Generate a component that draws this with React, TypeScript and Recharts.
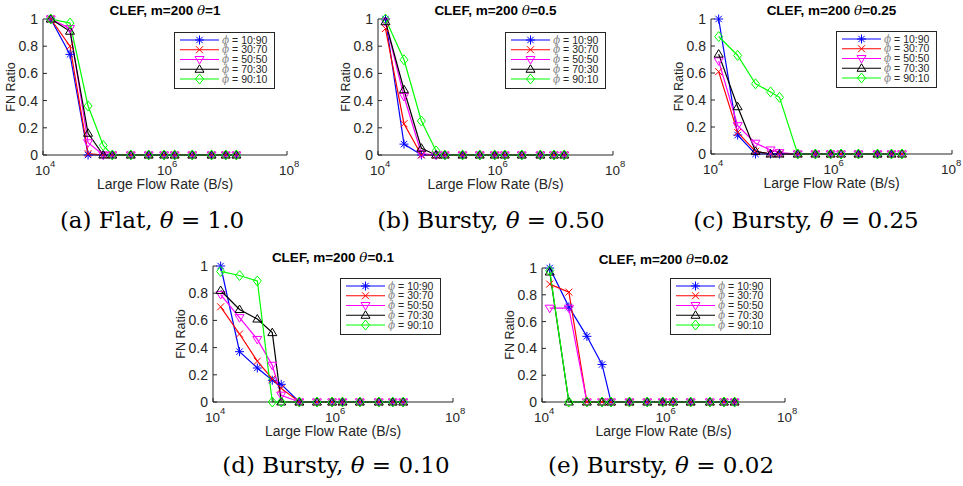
import React from "react"
import { LineChart, Line, XAxis, YAxis } from "recharts"

// large flow rates (B/s), shared by every panel
const xRates = [13400, 27700, 54800, 97300, 137000, 275000, 540000, 968000, 1440000, 2800000, 5800000, 9900000, 14800000]
const mixLabels = ["10:90", "30:70", "50:50", "70:30", "90:10"]
const xTicks = [1e4, 1e5, 1e6, 1e7, 1e8]
const yTicks = [0, 0.2, 0.4, 0.6, 0.8, 1]
const thetaTitles = ["1", "0.5", "0.25", "0.1", "0.02"]
const captionHeads = ["(a) Flat, ", "(b) Bursty, ", "(c) Bursty, ", "(d) Bursty, ", "(e) Bursty, "]
const captionThetas = ["1.0", "0.50", "0.25", "0.10", "0.02"]

// FN ratio, one row per mix (10:90 .. 90:10)
const fnTheta1 = [
  [1, 0.74, 0, 0, 0, 0, 0, 0, 0, 0, 0, 0, 0],
  [1, 0.8, 0.01, 0, 0, 0, 0, 0, 0, 0, 0, 0, 0],
  [1, 0.93, 0.09, 0, 0, 0, 0, 0, 0, 0, 0, 0, 0],
  [1, 0.91, 0.16, 0, 0, 0, 0, 0, 0, 0, 0, 0, 0],
  [1, 0.97, 0.36, 0.07, 0, 0, 0, 0, 0, 0, 0, 0, 0],
]
const fnTheta050 = [
  [1, 0.08, 0, 0, 0, 0, 0, 0, 0, 0, 0, 0, 0],
  [0.93, 0.23, 0, 0, 0, 0, 0, 0, 0, 0, 0, 0, 0],
  [0.98, 0.43, 0.01, 0, 0, 0, 0, 0, 0, 0, 0, 0, 0],
  [0.98, 0.48, 0.05, 0, 0, 0, 0, 0, 0, 0, 0, 0, 0],
  [1, 0.7, 0.25, 0.03, 0, 0, 0, 0, 0, 0, 0, 0, 0],
]
const fnTheta025 = [
  [1, 0.14, 0, 0, 0, 0, 0, 0, 0, 0, 0, 0, 0],
  [0.61, 0.16, 0.02, 0, 0, 0, 0, 0, 0, 0, 0, 0, 0],
  [0.69, 0.21, 0.08, 0.03, 0.01, 0, 0, 0, 0, 0, 0, 0, 0],
  [0.74, 0.35, 0.02, 0, 0, 0, 0, 0, 0, 0, 0, 0, 0],
  [0.87, 0.73, 0.52, 0.46, 0.42, 0, 0, 0, 0, 0, 0, 0, 0],
]
const fnTheta010 = [
  [1, 0.37, 0.25, 0.16, 0.13, 0, 0, 0, 0, 0, 0, 0, 0],
  [0.7, 0.5, 0.3, 0.17, 0.1, 0, 0, 0, 0, 0, 0, 0, 0],
  [0.79, 0.62, 0.46, 0.27, 0.05, 0, 0, 0, 0, 0, 0, 0, 0],
  [0.82, 0.68, 0.61, 0.51, 0, 0, 0, 0, 0, 0, 0, 0, 0],
  [0.96, 0.93, 0.89, 0, 0, 0, 0, 0, 0, 0, 0, 0, 0],
]
const fnTheta002 = [
  [1, 0.71, 0.49, 0.28, 0, 0, 0, 0, 0, 0, 0, 0, 0],
  [0.88, 0.82, 0, 0, 0, 0, 0, 0, 0, 0, 0, 0, 0],
  [0.7, 0.7, 0, 0, 0, 0, 0, 0, 0, 0, 0, 0, 0],
  [0.97, 0, 0, 0, 0, 0, 0, 0, 0, 0, 0, 0, 0],
  [0.98, 0, 0, 0, 0, 0, 0, 0, 0, 0, 0, 0, 0],
]
const panelData = [fnTheta1, fnTheta050, fnTheta025, fnTheta010, fnTheta002]

const AXIS = "#262626"
const SANS = "'Liberation Sans', Arial, sans-serif"
const seriesColors = ["#0000ff", "#ff0000", "#ff00ff", "#000000", "#00ff00"]
const seriesShapes = ["star", "cross", "down", "up", "diamond"]

// plot box of each panel, page pixels
const boxes = [
  { left: 43, top: 19, w: 244, h: 136, lx: 174, ly: 32, cx: 152, cy: 228 },
  { left: 378, top: 19, w: 235, h: 136, lx: 505, ly: 32, cx: 491, cy: 228 },
  { left: 711, top: 19, w: 241, h: 135, lx: 836, ly: 31, cx: 806, cy: 228 },
  { left: 213, top: 266, w: 240, h: 136, lx: 340, ly: 278, cx: 336, cy: 473 },
  { left: 542, top: 268, w: 243, h: 134, lx: 670, ly: 278, cx: 661, cy: 473 },
]

function Marker({ shape, x, y, color }: { shape: string; x: number; y: number; color: string }) {
  const p = { stroke: color, strokeWidth: 1, fill: "none" }
  if (shape === "star") {
    return (
      <g {...p}>
        <line x1={x - 4.5} y1={y} x2={x + 4.5} y2={y} />
        <line x1={x} y1={y - 4.5} x2={x} y2={y + 4.5} />
        <line x1={x - 3.2} y1={y - 3.2} x2={x + 3.2} y2={y + 3.2} />
        <line x1={x - 3.2} y1={y + 3.2} x2={x + 3.2} y2={y - 3.2} />
      </g>
    )
  }
  if (shape === "cross") {
    return (
      <g {...p}>
        <line x1={x - 3.5} y1={y - 3.5} x2={x + 3.5} y2={y + 3.5} />
        <line x1={x - 3.5} y1={y + 3.5} x2={x + 3.5} y2={y - 3.5} />
      </g>
    )
  }
  if (shape === "down") {
    return <polygon {...p} points={`${x - 4.5},${y - 3} ${x + 4.5},${y - 3} ${x},${y + 4.5}`} />
  }
  if (shape === "up") {
    return <polygon {...p} points={`${x - 4.5},${y + 3} ${x + 4.5},${y + 3} ${x},${y - 4.5}`} />
  }
  return <polygon {...p} points={`${x},${y - 5} ${x + 4},${y} ${x},${y + 5} ${x - 4},${y}`} />
}

// "10^n" labels, only on even decades like the MATLAB axis
function LogTick(props: any) {
  const { x, y, payload, limit } = props
  const exp = Math.round(Math.log10(payload.value))
  if (exp % 2 !== 0) return <g />
  const start = Math.min(x - 8, limit - 21)
  return (
    <text x={start} y={y + 19.5} fontSize={13.5} fill={AXIS} fontFamily={SANS}>
      10<tspan dy={-8} fontSize={9.5}>{exp}</tspan>
    </text>
  )
}

const padL = 45
const padT = 12
const padR = 20
const padB = 44

function Panel({ idx }: { idx: number }) {
  const box = boxes[idx]
  const series = panelData[idx]
  const rows = xRates.map((rate, i) => {
    const row: Record<string, number> = { rate }
    series.forEach((s, k) => {
      row["s" + k] = s[i]
    })
    return row
  })
  const limit = 962 - (box.left - padL)
  return (
    <div style={{ position: "absolute", left: box.left - padL, top: box.top - padT }}>
      <LineChart
        width={box.w + padL + padR}
        height={box.h + padT + padB}
        data={rows}
        margin={{ top: padT, right: padR, bottom: 0, left: 0 }}
      >
        <XAxis xAxisId="b" dataKey="rate" type="number" scale="log" domain={[1e4, 1e8]} ticks={xTicks}
          height={padB} tickSize={-4} tickMargin={4} tick={<LogTick limit={limit} />} stroke={AXIS} interval={0} />
        <XAxis xAxisId="t" orientation="top" dataKey="rate" type="number" scale="log" domain={[1e4, 1e8]} ticks={xTicks}
          height={0} tickSize={-4} tick={false} stroke={AXIS} interval={0} />
        <YAxis yAxisId="l" type="number" domain={[0, 1]} ticks={yTicks} width={padL} tickSize={-4} tickMargin={9}
          stroke={AXIS} interval={0} tick={{ fontSize: 14, fill: AXIS, fontFamily: SANS }} />
        <YAxis yAxisId="r" orientation="right" type="number" domain={[0, 1]} ticks={yTicks} width={0} tickSize={-4}
          tick={false} stroke={AXIS} interval={0} />
        {series.map((_, k) => (
          <Line
            key={k}
            xAxisId="b"
            yAxisId="l"
            dataKey={"s" + k}
            type="linear"
            stroke={seriesColors[k]}
            strokeWidth={1.2}
            isAnimationActive={false}
            dot={(d: any) => (
              <Marker key={`m-${k}-${d.index}`} shape={seriesShapes[k]} x={d.cx} y={d.cy} color={seriesColors[k]} />
            )}
            activeDot={false}
          />
        ))}
      </LineChart>
    </div>
  )
}

function Overlay() {
  return (
    <svg width={963} height={486} style={{ position: "absolute", left: 0, top: 0 }} fontFamily={SANS}>
      {boxes.map((b, i) => (
        <g key={i}>
          <text x={b.left + b.w / 2} y={b.top - 4} textAnchor="middle" fontSize={13.5} fontWeight="bold" fill="#000">
            CLEF, m=200 <tspan fontStyle="italic" fontWeight="normal" fontFamily="'DejaVu Serif', serif">θ</tspan>={thetaTitles[i]}
          </text>
          <text transform={`translate(${b.left - 28},${b.top + b.h / 2}) rotate(-90)`} textAnchor="middle" fontSize={12.5} fill={AXIS}>
            FN Ratio
          </text>
          <text x={b.left + b.w / 2} y={b.top + b.h + 34} textAnchor="middle" fontSize={14} fill={AXIS}>
            Large Flow Rate (B/s)
          </text>
          <rect x={b.lx + 0.5} y={b.ly + 0.5} width={100} height={56} fill="#fff" stroke={AXIS} strokeWidth={1} />
          {mixLabels.map((m, k) => {
            const ry = b.ly + 8 + k * 9.75
            return (
              <g key={k}>
                <line x1={b.lx + 6} y1={ry} x2={b.lx + 45} y2={ry} stroke={seriesColors[k]} strokeWidth={1.2} />
                <Marker shape={seriesShapes[k]} x={b.lx + 25.5} y={ry} color={seriesColors[k]} />
                <text x={b.lx + 48} y={ry + 3.6} fontSize={10.5} fill={AXIS}>
                  <tspan fill="#888" fontStyle="italic" fontFamily="'DejaVu Serif', serif">ϕ</tspan> = {m}
                </text>
              </g>
            )
          })}
          <text x={b.cx} y={b.cy} textAnchor="middle" fontSize={23} fill="#000" fontFamily="'DejaVu Serif', serif">
            {captionHeads[i]}<tspan fontStyle="italic">θ</tspan> = {captionThetas[i]}
          </text>
        </g>
      ))}
    </svg>
  )
}

export default function App() {
  return (
    <div style={{ position: "absolute", left: 0, top: 0, width: 963, height: 486, background: "#fff", fontFamily: SANS }}>
      {boxes.map((_, i) => (
        <Panel key={i} idx={i} />
      ))}
      <Overlay />
    </div>
  )
}
